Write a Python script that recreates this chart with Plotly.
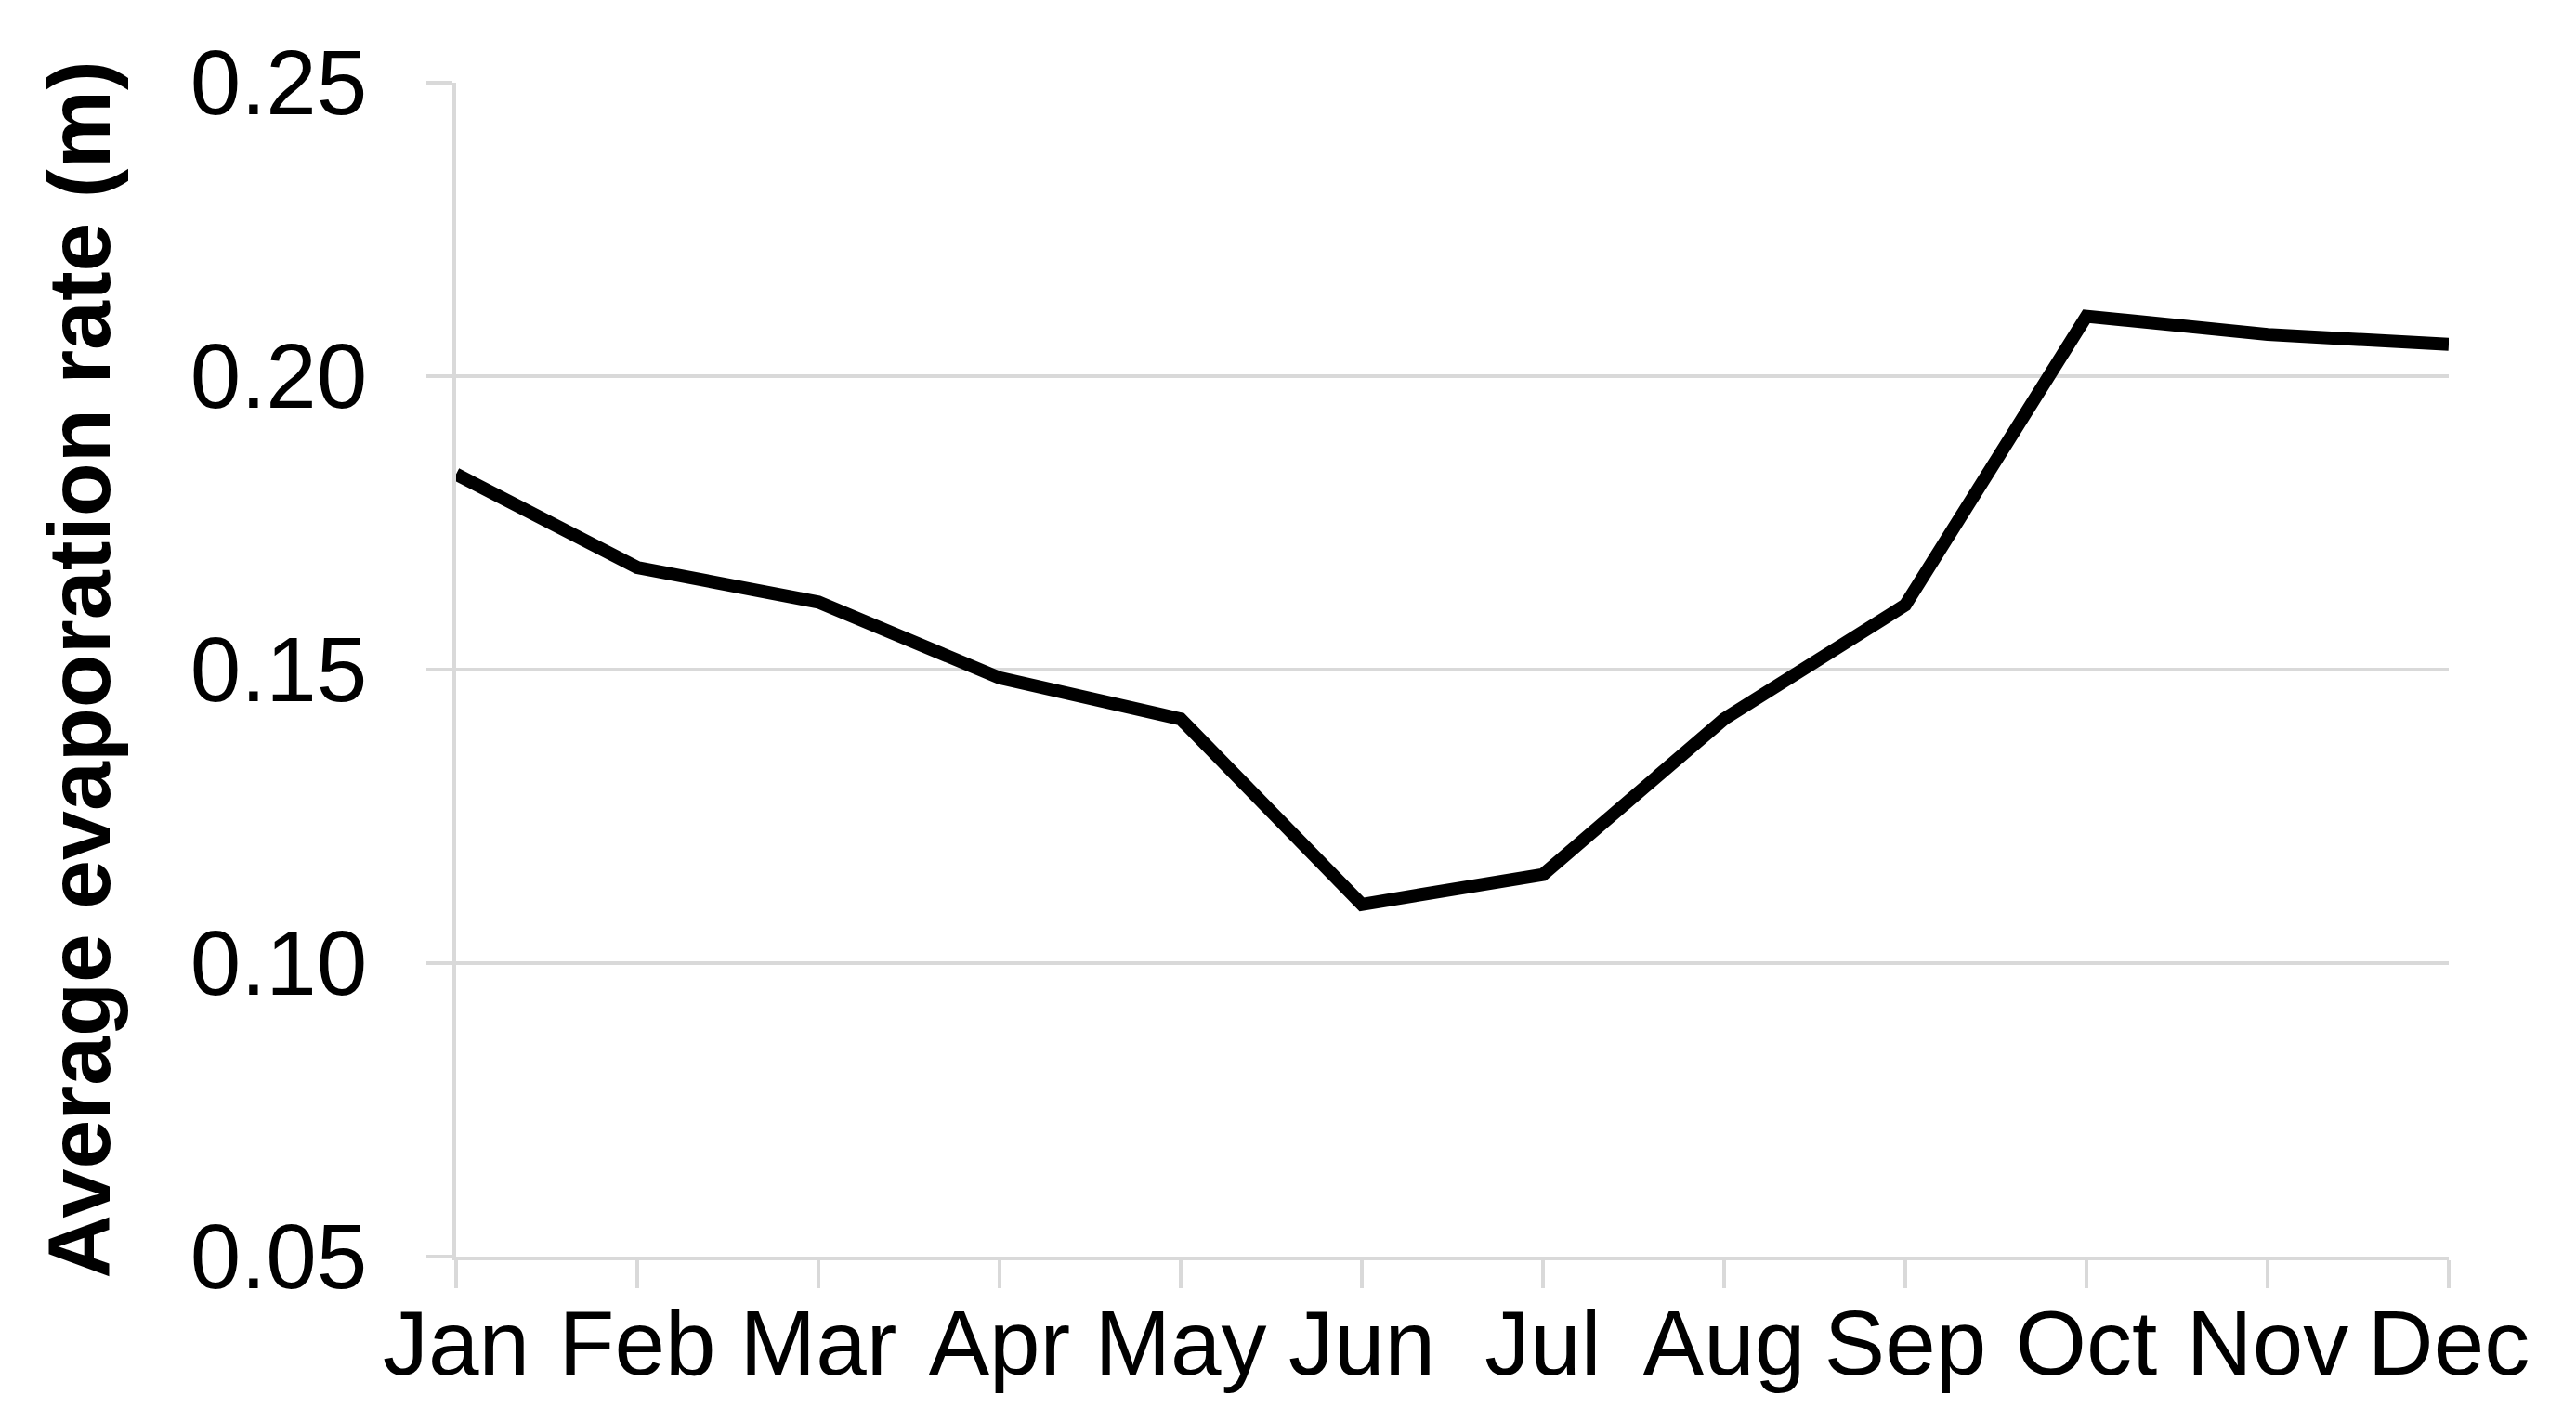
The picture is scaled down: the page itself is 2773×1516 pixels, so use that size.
import plotly.graph_objects as go

# Average monthly evaporation rate (m)
months = ["Jan", "Feb", "Mar", "Apr", "May", "Jun",
          "Jul", "Aug", "Sep", "Oct", "Nov", "Dec"]
evaporation = [0.1833, 0.1674, 0.1615, 0.1486, 0.1416, 0.1100,
               0.1151, 0.1416, 0.1610, 0.2102, 0.2071, 0.2054]
y_ticks = [0.05, 0.10, 0.15, 0.20, 0.25]
y_ticklabels = ["0.05", "0.10", "0.15", "0.20", "0.25"]

grid_color = "#d9d9d9"
font_family = "Liberation Sans, Arial, sans-serif"

fig = go.Figure()

fig.add_trace(go.Scatter(
    x=list(range(len(months))),
    y=evaporation,
    mode="lines",
    line=dict(color="black", width=14),
    showlegend=False,
))

fig.update_layout(
    width=2773,
    height=1516,
    paper_bgcolor="white",
    plot_bgcolor="white",
    margin=dict(l=483, r=145, t=81, b=171),
    font=dict(family=font_family, color="black"),
    xaxis=dict(
        range=[0, len(months) - 1],
        tickmode="array",
        tickvals=list(range(len(months))),
        ticktext=months,
        tickfont=dict(family=font_family, size=98),
        showgrid=False,
        zeroline=False,
        showline=True,
        linecolor=grid_color,
        linewidth=4,
        ticks="outside",
        ticklen=30,
        tickwidth=4,
        tickcolor=grid_color,
        ticklabelstandoff=-25,
    ),
    yaxis=dict(
        range=[0.05, 0.25],
        tickmode="array",
        tickvals=y_ticks,
        ticktext=y_ticklabels,
        tickfont=dict(family=font_family, size=98),
        showgrid=True,
        gridcolor=grid_color,
        gridwidth=4,
        zeroline=False,
        showline=True,
        linecolor=grid_color,
        linewidth=4,
        ticks="outside",
        ticklen=28,
        tickwidth=4,
        tickcolor=grid_color,
        ticklabelstandoff=44,
        title=dict(
            text="<b>Average evaporation rate (m)</b>",
            font=dict(family=font_family, size=95),
            standoff=55,
        ),
    ),
)

fig.write_html("out.html")
